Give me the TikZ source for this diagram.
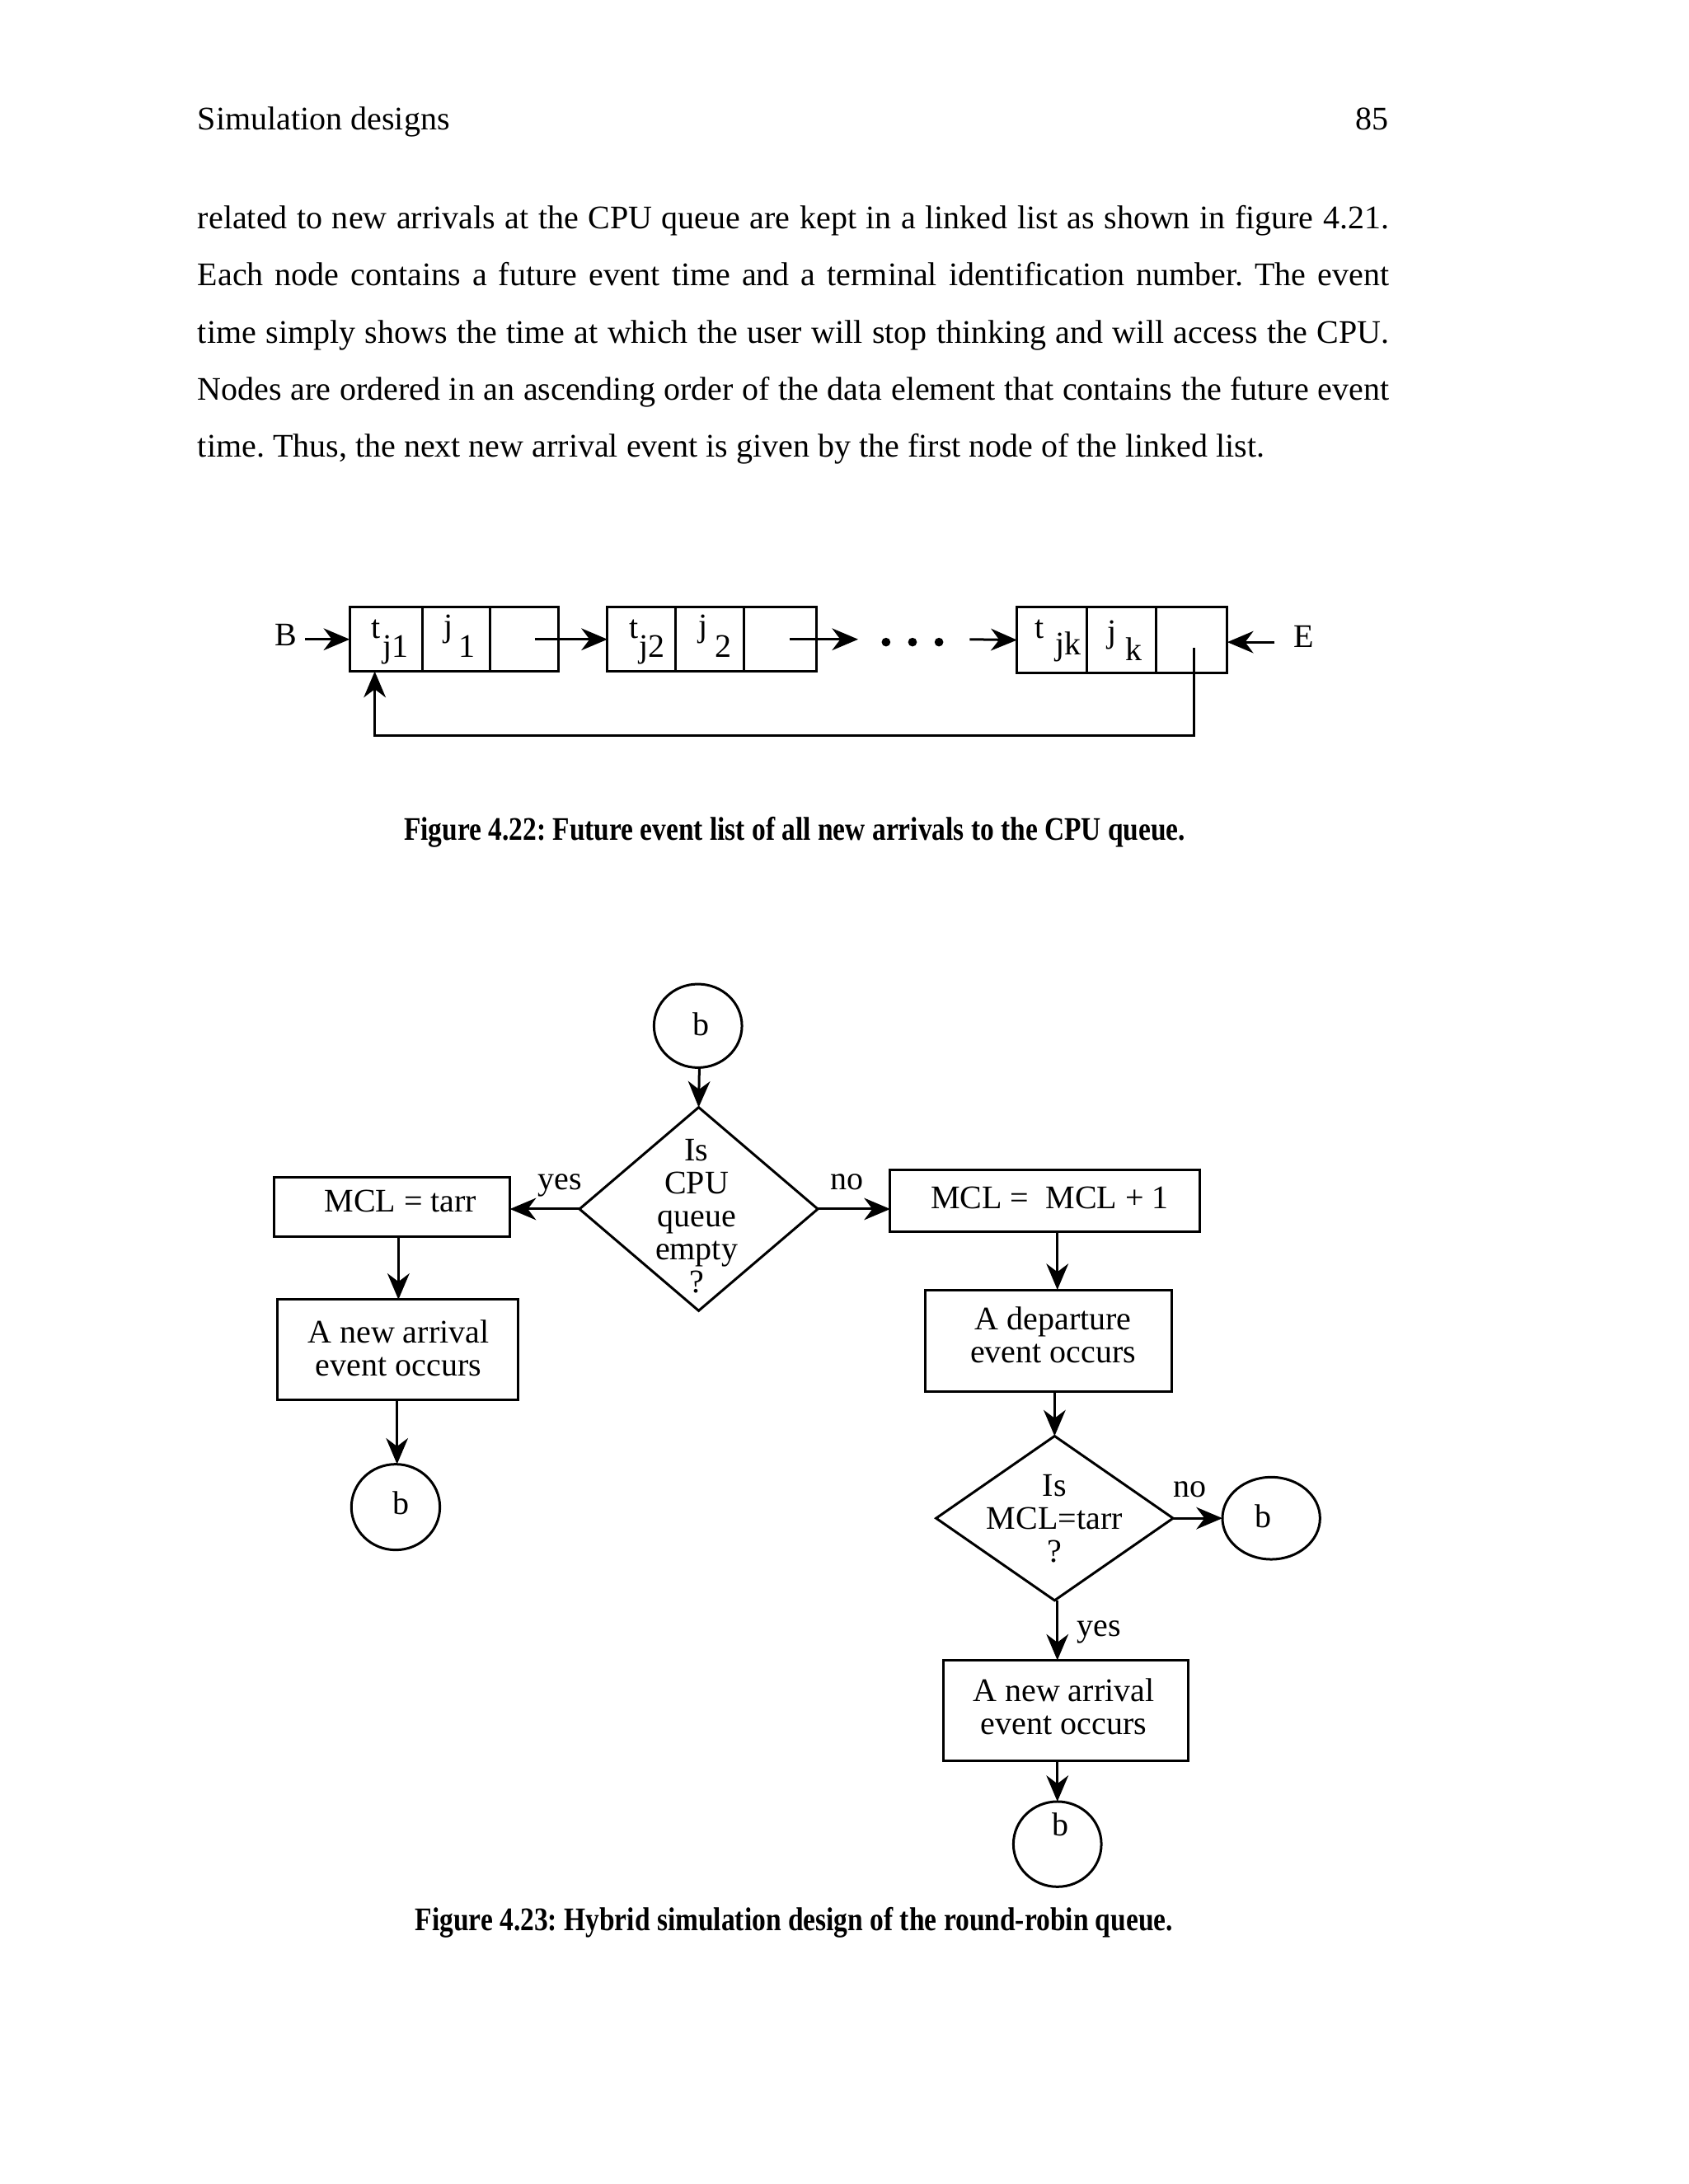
\documentclass[tikz,border=0pt]{standalone}
\usepackage{fontspec}
\setmainfont{Liberation Serif}
\usetikzlibrary{arrows.meta,shapes.geometric}
\newcommand{\mlines}[1]{\begin{tabular}[t]{@{}c@{}}#1\end{tabular}}
\frenchspacing
\begin{document}
\begin{tikzpicture}[x=0.50686pt,y=-0.50686pt,
  every node/.style={inner sep=0pt, outer sep=0pt},
  txt/.style={font=\fontsize{12}{12}\selectfont, anchor=base},
  body/.style={font=\fontsize{12}{14}\selectfont, anchor=base west},
  capt/.style={font=\fontsize{12}{14}\selectfont\bfseries, anchor=base},
  ln/.style={line width=0.9pt},
  arr/.style={ln, -{Stealth[length=9.5pt,width=8pt,inset=3pt]}},
  rbox/.style={draw, ln, rectangle},
  dbox/.style={draw, ln, diamond},
  cbox/.style={draw, ln, ellipse},
  lcell/.style={draw, ln, rectangle, minimum width=76pt, minimum height=23.3pt},
  dotnode/.style={circle, fill, minimum size=3.2pt},
]
\useasboundingbox[fill=white] (0,0) rectangle (1212,1568);

% ---------- header and paragraph ----------
\node[body] (hdr) at (142,93.3) {Simulation designs};
\node[font=\fontsize{12}{14}\selectfont, anchor=base east] (pgno) at (997,93.3) {85};

\node[body] (l1) at (142,164.2) {\makebox[433.4pt][s]{related to new arrivals at the CPU queue are kept in a linked list as shown in figure 4.21.}};
\node[body] (l2) at (142,205.2) {\makebox[433.4pt][s]{Each node contains a future event time and a terminal identification number. The event}};
\node[body] (l3) at (142,246.2) {\makebox[433.4pt][s]{time simply shows the time at which the user will stop thinking and will access the CPU.}};
\node[body] (l4) at (142,287.2) {\makebox[433.4pt][s]{Nodes are ordered in an ascending order of the data element that contains the future event}};
\node[body] (l5) at (142,328.2) {time. Thus, the next new arrival event is given by the first node of the linked list.};

% ---------- figure 4.22: linked list ----------
\node[lcell] (box1) at (326,459) {};
\node[lcell] (box2) at (511,459) {};
\node[lcell, minimum width=76.5pt, minimum height=23.8pt] (box3) at (805.5,459.5) {};
\draw[ln] (303,436) -- (303,482) (352,436) -- (352,482);
\draw[ln] (485,436) -- (485,482) (534,436) -- (534,482);
\draw[ln] (780,436) -- (780,483) (830,436) -- (830,483);

\node[txt] (t1) at (270,458) {t};
\node[txt] (t1s) at (284,472) {j1};
\node[txt] (j1) at (322,457) {j};
\node[txt] (j1s) at (335,472) {1};
\node[txt] (t2) at (455,458) {t};
\node[txt] (t2s) at (468,472) {j2};
\node[txt] (j2) at (505,457) {j};
\node[txt] (j2s) at (519,472) {2};
\node[txt] (t3) at (746,458) {t};
\node[txt] (t3s) at (767,470) {jk};
\node[txt] (j3) at (798,461) {j};
\node[txt] (j3s) at (814,474) {k};

\node[txt] (B) at (205,463.5) {B};
\node[txt] (E) at (936,465) {E};
\coordinate (Bt) at (219,459);
\draw[arr] (Bt) -- (box1.west);
\coordinate (p1) at (384,459);
\draw[arr] (p1) -- (box2.west);
\coordinate (p2) at (567,459);
\coordinate (p2e) at (616,459);
\draw[arr] (p2) -- (p2e);
\node[dotnode] (dot1) at (636,461) {};
\node[dotnode] (dot2) at (655,461) {};
\node[dotnode] (dot3) at (674,461) {};
\coordinate (p3) at (696,459);
\draw[arr] (p3) -- (box3.west);
\coordinate (Et) at (915,461);
\draw[arr] (Et) -- (box3.east |- Et);
\coordinate (fb) at (857,465);
\coordinate (fbc) at (269,528);
\draw[arr] (fb) |- (fbc) -- (fbc |- box1.south);

\node[capt] (cap1) at (570.5,603.3) {\resizebox{284.3pt}{\height}{Figure 4.22: Future event list of all new arrivals to the CPU queue.}};

% ---------- figure 4.23: flowchart ----------
\node[cbox, minimum width=32pt, minimum height=30.4pt] (c1) at (501,736.5) {};
\node[txt] (c1t) at (503.5,743.7) {b};
\node[dbox, minimum width=86.7pt, minimum height=74pt] (d1) at (501.5,868) {};
\node[txt] (d1t) at (500,833.5) {\mlines{Is\\CPU\\queue\\empty\\?}};
\draw[arr] (c1.south -| 502,0) -- (d1.north);

\node[rbox, minimum width=85.7pt, minimum height=21.8pt] (m1) at (281.5,866.5) {};
\node[txt] (m1t) at (287.5,870) {MCL = tarr};
\draw[arr] (d1.west) -- (m1.east |- d1.west);
\node[txt] (yes1) at (402,854) {yes};

\node[rbox, minimum width=87.7pt, minimum height=36.5pt] (a1) at (285.5,969) {};
\node[txt] (a1t) at (286,964.3) {\mlines{A new arrival\\event occurs}};
\draw[arr] (m1.south -| 286,0) -- (a1.north -| 286,0);

\node[cbox, minimum width=32.2pt, minimum height=31.2pt] (c2) at (284,1082) {};
\node[txt] (c2t) at (288,1087) {b};
\draw[arr] (a1.south -| 285,0) -- (c2.north -| 285,0);

\node[rbox, minimum width=112.5pt, minimum height=22.3pt] (m2) at (750,862) {};
\node[txt] (m2t) at (753.5,868) {MCL =\ \ MCL + 1};
\draw[arr] (d1.east) -- (m2.west |- d1.east);
\node[txt] (no1) at (608,854) {no};

\node[rbox, minimum width=89.7pt, minimum height=37pt] (dep) at (752.5,962.5) {};
\node[txt] (dept) at (756,954.5) {\mlines{A departure\\event occurs}};
\draw[arr] (m2.south -| 759,0) -- (dep.north -| 759,0);

\node[dbox, minimum width=86.2pt, minimum height=59.8pt] (d2) at (757,1090) {};
\node[txt] (d2t) at (757,1074) {\mlines{Is\\MCL=tarr\\?}};
\draw[arr] (dep.south -| 757,0) -- (d2.north);

\node[cbox, minimum width=35.5pt, minimum height=29.9pt] (c3) at (912.5,1090) {};
\node[txt] (c3t) at (907,1096.5) {b};
\draw[arr] (d2.east) -- (c3.west);
\node[txt] (no2) at (854,1075) {no};

\node[rbox, minimum width=89.2pt, minimum height=36.5pt] (a2) at (765,1228) {};
\node[txt] (a2t) at (763.5,1221.5) {\mlines{A new arrival\\event occurs}};
\draw[arr] (d2.south -| 759,0) -- (a2.north -| 759,0);
\node[txt] (yes2) at (789,1175) {yes};

\node[cbox, minimum width=32pt, minimum height=31pt] (c4) at (759,1324) {};
\node[txt] (c4t) at (761.5,1318) {b};
\draw[arr] (a2.south -| 759,0) -- (c4.north -| 759,0);

\node[capt] (cap2) at (570,1386) {\resizebox{275.7pt}{\height}{Figure 4.23: Hybrid simulation design of the round-robin queue.}};
\end{tikzpicture}
\end{document}
